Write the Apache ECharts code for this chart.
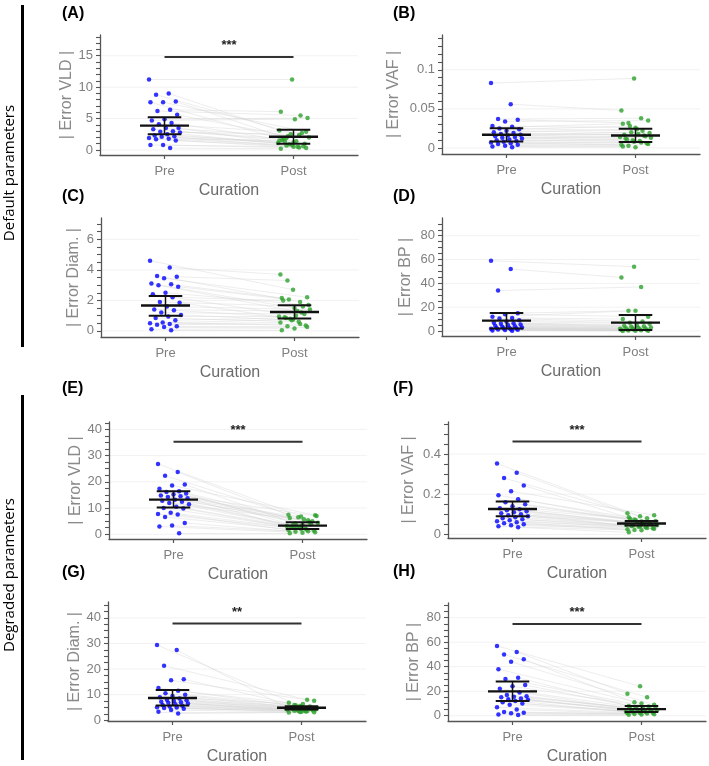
<!DOCTYPE html>
<html>
<head>
<meta charset="utf-8">
<title>Curation error panels</title>
<script src="https://cdn.jsdelivr.net/npm/echarts@6.0.0/dist/echarts.min.js"></script>
<style>
  html, body { margin: 0; padding: 0; background: #fff; }
  #chart { width: 709px; height: 766px; }
</style>
</head>
<body>
<div id="chart"></div>
<script>
// x categories
const curationLabels = ['Pre', 'Post']

// (A) default VLD
const vldDefaultPre = [11.2, 9.0, 8.8, 7.7, 7.6, 7.6, 6.4, 6.2, 5.6, 4.9, 4.7, 4.3, 4.1, 3.5, 3.5, 3.3, 3.0, 2.9, 2.8, 2.5, 2.3, 2.2, 2.1, 1.9, 1.8, 1.7, 1.5, 0.8, 0.8, 0.3]
const vldDefaultPost = [11.2, 3.1, 2.4, 1.9, 2.9, 1.2, 6.1, 5.5, 2.2, 5.1, 4.9, 1.6, 2.7, 0.9, 2.0, 1.4, 1.8, 0.6, 2.5, 1.1, 0.5, 1.3, 1.0, 0.8, 1.5, 0.4, 0.7, 0.3, 0.5, 0.2]
const vldDefaultStats = [[3.87, 2.5, 5.2], [2.1, 1.0, 3.2]]   // centre, lower, upper

// (B) default VAF
const vafDefaultPre = [0.083, 0.056, 0.037, 0.036, 0.034, 0.028, 0.027, 0.025, 0.024, 0.022, 0.020, 0.019, 0.018, 0.017, 0.016, 0.015, 0.014, 0.013, 0.012, 0.011, 0.010, 0.009, 0.008, 0.007, 0.006, 0.005, 0.004, 0.003, 0.002, 0.001]
const vafDefaultPost = [0.089, 0.048, 0.038, 0.032, 0.035, 0.026, 0.031, 0.022, 0.028, 0.019, 0.024, 0.017, 0.016, 0.020, 0.013, 0.018, 0.012, 0.015, 0.010, 0.014, 0.009, 0.011, 0.006, 0.008, 0.004, 0.007, 0.003, 0.005, 0.001, 0.002]
const vafDefaultStats = [[0.0169, 0.0084, 0.0253], [0.016, 0.0076, 0.0245]]

// (C) default diameter
const diamDefaultPre = [4.6, 4.15, 3.6, 3.55, 3.45, 3.1, 3.05, 3.0, 2.9, 2.5, 2.4, 2.2, 1.9, 1.85, 1.6, 1.4, 1.35, 1.2, 1.05, 0.95, 0.85, 0.7, 0.55, 0.5, 0.45, 0.4, 0.3, 0.25, 0.1, 0.05]
const diamDefaultPost = [2.7, 3.7, 1.9, 3.3, 2.2, 1.5, 2.15, 1.2, 2.05, 1.7, 1.0, 2.0, 1.6, 0.8, 1.4, 1.3, 0.9, 1.1, 0.7, 0.95, 0.6, 0.85, 0.35, 0.75, 0.55, 0.45, 0.3, 0.25, 0.15, 0.05]
const diamDefaultStats = [[1.66, 1.0, 2.29], [1.24, 0.81, 1.68]]

// (D) default BP
const bpDefaultPre = [59, 52, 34, 15, 14, 12, 11, 10.5, 9, 8, 7, 6.5, 6, 5.5, 5, 4.5, 4, 3.5, 3, 2.8, 2.5, 2.2, 2, 1.8, 1.5, 1.2, 1, 0.8, 0.5, 0.3]
const bpDefaultPost = [54, 45, 37, 17, 12, 17, 10, 8, 7, 6, 5, 4.5, 4, 3.5, 3, 2.8, 2.5, 2.2, 2, 1.8, 1.5, 1.3, 1.1, 1, 0.8, 0.6, 0.5, 0.3, 0.2, 0.1]
const bpDefaultStats = [[8.7, 2.0, 15.1], [7.0, 0.8, 13.4]]

// (E) degraded VLD
const vldDegradedPre = [26.8, 23.7, 22.3, 19, 18.6, 17.4, 16.4, 16.1, 15.5, 15.2, 14.8, 14.5, 14.2, 13.7, 13.2, 12.8, 12.4, 11.9, 11.4, 10.5, 10, 9.8, 8.2, 7.7, 7.5, 6.6, 4.3, 3.3, 3, 0.4]
const vldDegradedPost = [6.8, 7.4, 5.3, 4.1, 7.3, 3.6, 6.2, 4.7, 3.0, 7.0, 5.7, 2.6, 3.8, 6.5, 4.4, 2.2, 3.4, 5.0, 2.8, 3.2, 1.8, 2.4, 1.4, 2.0, 1.6, 1.2, 1.0, 0.8, 0.6, 0.4]
const vldDegradedStats = [[13.2, 10.2, 16.4], [3.3, 2.0, 4.6]]

// (F) degraded VAF
const vafDegradedPre = [0.352, 0.307, 0.28, 0.243, 0.215, 0.195, 0.175, 0.16, 0.15, 0.14, 0.13, 0.125, 0.12, 0.115, 0.11, 0.105, 0.1, 0.095, 0.09, 0.085, 0.08, 0.075, 0.07, 0.065, 0.06, 0.055, 0.05, 0.045, 0.04, 0.035]
const vafDegradedPost = [0.09, 0.105, 0.08, 0.074, 0.095, 0.064, 0.085, 0.058, 0.07, 0.067, 0.054, 0.077, 0.05, 0.06, 0.046, 0.056, 0.042, 0.052, 0.038, 0.048, 0.035, 0.044, 0.03, 0.04, 0.025, 0.032, 0.022, 0.028, 0.02, 0.01]
const vafDegradedStats = [[0.126, 0.09, 0.164], [0.054, 0.044, 0.066]]

// (G) degraded diameter
const diamDegradedPre = [29.4, 27.4, 21.3, 16, 15.6, 12.6, 11.5, 10.5, 10, 9.5, 9, 8.5, 8, 7.8, 7.5, 7.2, 7, 6.8, 6.5, 6.2, 6, 5.7, 5.4, 5.1, 5, 4.8, 4.5, 4, 3.3, 2.6]
const diamDegradedPost = [5.6, 4.8, 8.0, 6.0, 7.6, 5.2, 6.8, 4.5, 5.8, 4.2, 6.3, 4.9, 5.4, 4.0, 4.7, 3.8, 5.0, 4.4, 3.6, 4.6, 3.4, 4.3, 3.9, 3.2, 4.1, 3.5, 3.7, 3.1, 3.3, 3.0]
const diamDegradedStats = [[8.7, 5.75, 11.8], [4.9, 4.2, 5.5]]

// (H) degraded BP
const bpDegradedPre = [57, 52, 50, 46, 44, 38, 31, 30, 25, 24, 22, 19, 17, 16, 15.5, 15, 14, 13.5, 13, 12, 11, 10, 9, 7, 5, 3, 2.5, 2, 1, 0.5]
const bpDegradedPost = [24, 18, 15, 11, 9, 10, 8, 7.5, 7, 6.5, 6, 5.5, 5, 4.8, 4.5, 4.2, 4, 3.8, 3.5, 3.2, 3, 2.8, 2.5, 2.2, 2, 1.8, 1.5, 1.2, 1, 0.8]
const bpDegradedStats = [[19.9, 12, 28], [5.4, 3, 7.9]]

// y tick labels
const ticksVLDDefault = [0, 5, 10, 15]
const ticksVAFDefault = [0, 0.05, 0.1]
const ticksDiamDefault = [0, 2, 4, 6]
const ticksBPDefault = [0, 20, 40, 60, 80]
const ticksVLDDegraded = [0, 10, 20, 30, 40]
const ticksVAFDegraded = [0, 0.2, 0.4]
const ticksDiamDegraded = [0, 10, 20, 30, 40]
const ticksBPDegraded = [0, 20, 40, 60, 80]

// significance bars (null = none)
const sigLevels = [14.8, null, null, null, 35.3, 0.462, 37.8, 74.8]
const sigLabels = ['***', '', '', '', '***', '***', '**', '***']

const panels = [
  {tag: '(A)', name: '| Error VLD |', pre: vldDefaultPre, post: vldDefaultPost, stats: vldDefaultStats, ticks: ticksVLDDefault},
  {tag: '(B)', name: '| Error VAF |', pre: vafDefaultPre, post: vafDefaultPost, stats: vafDefaultStats, ticks: ticksVAFDefault},
  {tag: '(C)', name: '| Error Diam. |', pre: diamDefaultPre, post: diamDefaultPost, stats: diamDefaultStats, ticks: ticksDiamDefault},
  {tag: '(D)', name: '| Error BP |', pre: bpDefaultPre, post: bpDefaultPost, stats: bpDefaultStats, ticks: ticksBPDefault},
  {tag: '(E)', name: '| Error VLD |', pre: vldDegradedPre, post: vldDegradedPost, stats: vldDegradedStats, ticks: ticksVLDDegraded},
  {tag: '(F)', name: '| Error VAF |', pre: vafDegradedPre, post: vafDegradedPost, stats: vafDegradedStats, ticks: ticksVAFDegraded},
  {tag: '(G)', name: '| Error Diam. |', pre: diamDegradedPre, post: diamDegradedPost, stats: diamDegradedStats, ticks: ticksDiamDegraded},
  {tag: '(H)', name: '| Error BP |', pre: bpDegradedPre, post: bpDegradedPost, stats: bpDegradedStats, ticks: ticksBPDegraded}
]

// layout: grid box [left, top, width, height], y range, minor tick step, name gap, tag position
const layout = [
  {box: [100, 35, 258, 120], y: [-0.8, 18.3], step: 1, gap: 25, tagXY: [62, 14]},
  {box: [442, 35, 258, 119], y: [-0.0077, 0.1445], step: 0.01, gap: 40, tagXY: [393, 14]},
  {box: [101, 218, 258, 119], y: [-0.4, 7.4], step: 0.5, gap: 19, tagXY: [62, 197]},
  {box: [442, 218, 258, 118], y: [-4.2, 94.9], step: 5, gap: 28, tagXY: [393, 197]},
  {box: [109, 422, 258, 117], y: [-1.8, 42.8], step: 2.5, gap: 25, tagXY: [62, 389]},
  {box: [448, 422, 258, 116], y: [-0.018, 0.559], step: 0.05, gap: 31, tagXY: [393, 389]},
  {box: [108, 602, 258, 120], y: [-0.3, 46.2], step: 2.5, gap: 24, tagXY: [62, 573]},
  {box: [448, 603, 258, 118], y: [-4.3, 92], step: 5, gap: 26, tagXY: [393, 572]}
]

const FONT = 'Liberation Sans, Arial, sans-serif'
const PRE_COLOR = '#0000ff'
const POST_COLOR = '#2ca02c'

// horizontal spread of the dots around each category (scrambled by index)
function jitter(i, k) {
  return (((i * 37 + k * 11) % 23) - 11) / 11 * 0.12
}

function minorTicks(range, step) {
  const out = []
  const start = Math.ceil(range[0] / step - 1e-9)
  for (let n = start; n * step <= range[1] + 1e-9; n++) out.push(+(n * step).toFixed(4))
  return out
}

const grids = [], xAxes = [], yAxes = [], series = [], graphics = []

panels.forEach((p, k) => {
  const L = layout[k]
  grids.push({left: L.box[0], top: L.box[1], width: L.box[2], height: L.box[3]})

  xAxes.push({
    gridIndex: k, type: 'value', min: 0.5, max: 2.5,
    axisLine: {onZero: false, lineStyle: {color: '#555', width: 1.3}},
    axisTick: {customValues: [1, 2], length: 4, lineStyle: {color: '#555', width: 1.2}},
    axisLabel: {customValues: [1, 2], formatter: v => curationLabels[Math.round(v) - 1],
      color: '#7f7f7f', fontSize: 13, fontFamily: FONT, margin: 10},
    splitLine: {show: false},
    name: 'Curation', nameLocation: 'middle', nameGap: 28,
    nameTextStyle: {color: '#6b6b6b', fontSize: 16, fontFamily: FONT}
  })

  yAxes.push({
    gridIndex: k, type: 'value', min: L.y[0], max: L.y[1],
    axisLine: {show: true, onZero: false, lineStyle: {color: '#555', width: 1.3}},
    axisTick: {show: true, customValues: minorTicks(L.y, L.step), length: 4, lineStyle: {color: '#555', width: 1.1}},
    axisLabel: {customValues: p.ticks, color: '#7f7f7f', fontSize: 13, fontFamily: FONT, margin: 7},
    splitLine: {show: false},
    name: p.name, nameLocation: 'middle', nameGap: L.gap,
    nameTextStyle: {color: '#8a8a8a', fontSize: 16, fontFamily: FONT}
  })

  // faint horizontal guides at the labelled ticks
  series.push({
    type: 'custom', xAxisIndex: k, yAxisIndex: k, silent: true, z: 0,
    data: p.ticks.map(t => [t]),
    renderItem: (params, api) => {
      const a = api.coord([0.5, api.value(0)])
      const b = api.coord([2.5, api.value(0)])
      return {type: 'line', shape: {x1: a[0], y1: a[1], x2: b[0], y2: b[1]},
        style: {stroke: '#f2f2f2', lineWidth: 1}}
    }
  })

  // paired lines
  series.push({
    type: 'lines', coordinateSystem: 'cartesian2d', xAxisIndex: k, yAxisIndex: k,
    silent: true, z: 1,
    data: p.pre.map((v, i) => ({coords: [[1 + jitter(i, 0), v], [2 + jitter(i, 3), p.post[i]]]})),
    lineStyle: {color: '#d4d4d4', width: 0.6, opacity: 0.7}
  })

  series.push({
    type: 'scatter', xAxisIndex: k, yAxisIndex: k, z: 3, symbolSize: 4.5,
    itemStyle: {color: PRE_COLOR},
    data: p.pre.map((v, i) => [1 + jitter(i, 0), v])
  })
  series.push({
    type: 'scatter', xAxisIndex: k, yAxisIndex: k, z: 3, symbolSize: 4.5,
    itemStyle: {color: POST_COLOR},
    data: p.post.map((v, i) => [2 + jitter(i, 3), v])
  })

  // centre line with error bars
  series.push({
    type: 'custom', xAxisIndex: k, yAxisIndex: k, z: 4, silent: true,
    data: p.stats.map((s, i) => [i + 1, s[0], s[1], s[2]]),
    renderItem: (params, api) => {
      const x = api.value(0)
      const c = api.coord([x, api.value(1)])
      const lo = api.coord([x, api.value(2)])
      const hi = api.coord([x, api.value(3)])
      const wMid = api.size([0.19, 0])[0]
      const wCap = api.size([0.13, 0])[0]
      const st = {stroke: '#111', lineWidth: 2}
      return {type: 'group', children: [
        {type: 'line', shape: {x1: c[0] - wMid, y1: c[1], x2: c[0] + wMid, y2: c[1]}, style: {stroke: '#111', lineWidth: 2.4}},
        {type: 'line', shape: {x1: lo[0] - wCap, y1: lo[1], x2: lo[0] + wCap, y2: lo[1]}, style: st},
        {type: 'line', shape: {x1: hi[0] - wCap, y1: hi[1], x2: hi[0] + wCap, y2: hi[1]}, style: st},
        {type: 'line', shape: {x1: lo[0], y1: lo[1], x2: hi[0], y2: hi[1]}, style: {stroke: '#111', lineWidth: 1.5}}
      ]}
    }
  })

  if (sigLevels[k] != null) {
    series.push({
      type: 'custom', xAxisIndex: k, yAxisIndex: k, z: 4, silent: true,
      data: [[sigLevels[k]]],
      renderItem: (params, api) => {
        const a = api.coord([1, api.value(0)])
        const b = api.coord([2, api.value(0)])
        return {type: 'group', children: [
          {type: 'line', shape: {x1: a[0], y1: a[1], x2: b[0], y2: b[1]}, style: {stroke: '#333', lineWidth: 2}},
          {type: 'text', x: (a[0] + b[0]) / 2, y: a[1] - 5,
            style: {text: sigLabels[k], fill: '#222', font: 'bold 13px ' + FONT, align: 'center', verticalAlign: 'bottom'}}
        ]}
      }
    })
  }

  graphics.push({type: 'text', x: L.tagXY[0], y: L.tagXY[1],
    style: {text: p.tag, fill: '#000', font: 'bold 16px ' + FONT, align: 'left', verticalAlign: 'middle'}})
})

// section labels and bars on the left
graphics.push(
  {type: 'rect', shape: {x: 21, y: 5, width: 3, height: 342}, style: {fill: '#000'}},
  {type: 'rect', shape: {x: 21, y: 395, width: 3, height: 365}, style: {fill: '#000'}},
  {type: 'text', x: 10, y: 173, rotation: Math.PI / 2,
    style: {text: 'Default parameters', fill: '#000', font: '15px Open Sans, sans-serif', align: 'center', verticalAlign: 'middle'}},
  {type: 'text', x: 10, y: 575, rotation: Math.PI / 2,
    style: {text: 'Degraded parameters', fill: '#000', font: '15px Open Sans, sans-serif', align: 'center', verticalAlign: 'middle'}}
)

const chart = echarts.init(document.getElementById('chart'))
chart.setOption({
  animation: false,
  backgroundColor: '#fff',
  grid: grids,
  xAxis: xAxes,
  yAxis: yAxes,
  series: series,
  graphic: graphics
})
</script>
</body>
</html>
